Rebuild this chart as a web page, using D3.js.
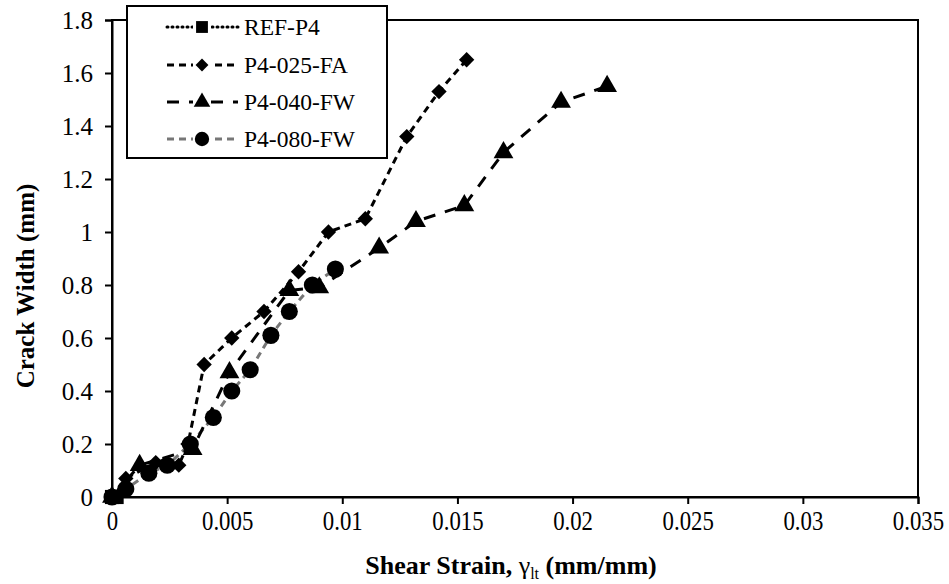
<!DOCTYPE html>
<html><head><meta charset="utf-8">
<script src="https://cdn.jsdelivr.net/npm/d3@7"></script>
<style>body{margin:0;background:#fff} svg text{font-family:"Liberation Serif","Times New Roman","DejaVu Serif",serif;}</style>
</head><body>
<svg id="c" width="949" height="584"></svg>
<script>
const seriesNames = ["REF-P4", "P4-025-FA", "P4-040-FW", "P4-080-FW"];
const refP4 = [[0, 0], [0.0002, 0]];
const p4025FA = [[0, 0], [0.0006, 0.07], [0.0019, 0.13], [0.0029, 0.12], [0.0033, 0.2], [0.004, 0.5], [0.0052, 0.6], [0.0066, 0.7], [0.0081, 0.85], [0.0094, 1.0], [0.011, 1.05], [0.0128, 1.36], [0.0142, 1.53], [0.0154, 1.65]];
const p4040FW = [[0, 0], [0.0012, 0.12], [0.0035, 0.18], [0.0051, 0.47], [0.0077, 0.78], [0.009, 0.79], [0.0116, 0.94], [0.0132, 1.04], [0.0153, 1.1], [0.017, 1.3], [0.0195, 1.49], [0.0215, 1.55]];
const p4080FW = [[0, 0], [0.0006, 0.03], [0.0016, 0.09], [0.0024, 0.12], [0.0034, 0.2], [0.0044, 0.3], [0.0052, 0.4], [0.006, 0.48], [0.0069, 0.61], [0.0077, 0.7], [0.0087, 0.8], [0.0097, 0.86]];
const xTicks = [0, 0.005, 0.01, 0.015, 0.02, 0.025, 0.03, 0.035];
const yTicks = [0, 0.2, 0.4, 0.6, 0.8, 1, 1.2, 1.4, 1.6, 1.8];

const svg = d3.select("#c");
const L = 112, R = 918, T = 20, B = 497;
const x = d3.scaleLinear().domain([0, 0.035]).range([L, R]);
const y = d3.scaleLinear().domain([0, 1.8]).range([B, T]);
const font = "Liberation Serif, Times New Roman, DejaVu Serif, serif";

svg.append("rect").attr("x", L).attr("y", T).attr("width", R - L).attr("height", B - T)
  .attr("fill", "none").attr("stroke", "#000").attr("stroke-width", 2);

const xAxis = svg.append("g").attr("transform", `translate(0,${B})`)
  .call(d3.axisBottom(x).tickValues(xTicks).tickSize(7).tickPadding(12).tickFormat(d => String(+d.toFixed(3))));
const yAxis = svg.append("g").attr("transform", `translate(${L},0)`)
  .call(d3.axisLeft(y).tickValues(yTicks).tickSize(7).tickPadding(12).tickFormat(d => String(+d.toFixed(1))));
[xAxis, yAxis].forEach(a => {
  a.attr("font-family", null).attr("font-size", null);
  a.select(".domain").attr("stroke-width", 2);
  a.selectAll(".tick line").attr("stroke-width", 2);
  a.selectAll("text").style("font-family", font).attr("fill", "#000");
});
yAxis.selectAll("text").style("font-size", "25px");
xAxis.selectAll("text").style("font-size", "24px").attr("y", null).attr("dy", null)
  .attr("transform", "translate(0,33) scale(0.95,1.15)");

const styles = {
  "REF-P4": {data: refP4, color: "#000", dash: "1,4", cap: "round", sym: d3.symbolSquare, size: 200},
  "P4-025-FA": {data: p4025FA, color: "#000", dash: "7,5", cap: "butt", sym: d3.symbolDiamond2, size: 150},
  "P4-040-FW": {data: p4040FW, color: "#000", dash: "12,10", cap: "butt", sym: d3.symbolTriangle, size: 170},
  "P4-080-FW": {data: p4080FW, color: "#777", dash: "7,5", cap: "butt", sym: d3.symbolCircle, size: 230}
};
const line = d3.line().x(d => x(d[0])).y(d => y(d[1]));
const order = ["P4-080-FW", "P4-040-FW", "P4-025-FA", "REF-P4"];
order.forEach(n => {
  const s = styles[n];
  svg.append("path").datum(s.data).attr("d", line).attr("fill", "none")
    .attr("stroke", s.color).attr("stroke-width", 3).attr("stroke-dasharray", s.dash).attr("stroke-linecap", s.cap);
});
order.forEach(n => {
  const s = styles[n];
  svg.append("g").selectAll("path").data(s.data).join("path")
    .attr("transform", d => `translate(${x(d[0])},${y(d[1])})`)
    .attr("d", d3.symbol(s.sym, s.size)).attr("fill", "#000");
});

const lg = svg.append("g");
lg.append("rect").attr("x", 127).attr("y", 6).attr("width", 260).attr("height", 152)
  .attr("fill", "#fff").attr("stroke", "#000").attr("stroke-width", 2);
const rowsY = [27, 65, 102, 139];
seriesNames.forEach((n, i) => {
  const s = styles[n];
  const yy = rowsY[i];
  lg.append("line").attr("x1", 167).attr("x2", 238).attr("y1", yy).attr("y2", yy)
    .attr("stroke", s.color).attr("stroke-width", 3).attr("stroke-dasharray", s.dash).attr("stroke-linecap", s.cap);
  lg.append("rect").attr("x", 193).attr("y", yy - 8).attr("width", 18).attr("height", 16).attr("fill", "#fff");
  lg.append("path").attr("transform", `translate(202,${yy})`).attr("d", d3.symbol(s.sym, s.size * 0.7)).attr("fill", "#000");
  lg.append("text").attr("x", 244).attr("y", yy + 8).text(n)
    .style("font-family", font).style("font-size", "23.5px").attr("fill", "#000");
});

const xt = svg.append("text").attr("x", (L + R) / 2 - 4).attr("y", 574).attr("text-anchor", "middle")
  .style("font-family", font).style("font-size", "26px").attr("font-weight", "bold").attr("fill", "#000");
xt.append("tspan").text("Shear Strain, ");
xt.append("tspan").text("γ").attr("font-weight", "normal");
xt.append("tspan").text("lt").style("font-size", "16px").attr("dy", 5).attr("font-weight", "normal");
xt.append("tspan").text(" (mm/mm)").attr("dy", -5);

svg.append("text").attr("transform", "translate(34,286) rotate(-90)").attr("text-anchor", "middle")
  .style("font-family", font).style("font-size", "25px").attr("font-weight", "bold").attr("fill", "#000")
  .text("Crack Width (mm)");
</script>
</body></html>
